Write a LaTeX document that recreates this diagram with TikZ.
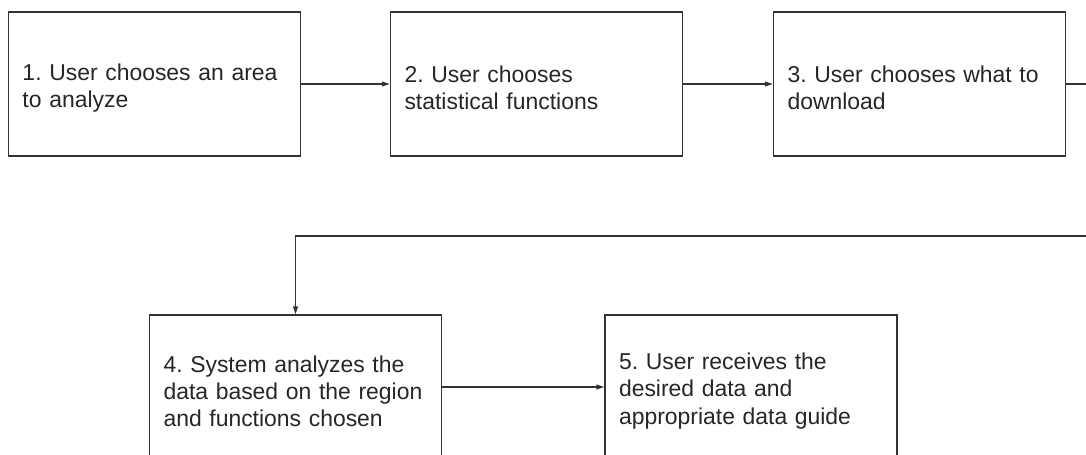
\documentclass[tikz,border=0pt]{standalone}
\usepackage{fontspec}
\setmainfont{Liberation Sans}
\usepackage{tikz}
\usetikzlibrary{arrows.meta,calc,positioning}
\frenchspacing

\begin{document}
\begin{tikzpicture}[x=0.75pt,y=-0.75pt,
  stepbox/.style={draw=black!80,line width=0.9pt,rectangle,align=left,
    text width=198pt,inner xsep=10.5pt,inner ysep=0pt,minimum height=108pt,
    text=black!85,font=\fontsize{17.2}{20.3}\selectfont,
    execute at begin node={\rule{0pt}{18.5pt}}},
  flow/.style={draw=black!80,line width=0.9pt,-{Triangle[length=6pt,width=3.6pt]}}]
  \useasboundingbox (0,0) rectangle (1086,454);
  \clip (0,0) rectangle (1086,454);
  \foreach \n/\x/\y/\txt in {1/154.5/84/{1. User chooses an area\\to analyze},
      2/536.5/84/{2. User chooses\\statistical functions},
      3/919.5/84/{3. User chooses what to\\download},
      4/295.5/387/{4. System analyzes the\\data based on the region\\and functions chosen},
      5/751/387/{5. User receives the\\desired data and\\appropriate data guide}}{
    \node[stepbox] (s\n) at (\x,\y) {\txt};
  }
  \coordinate (turn) at (1110,236);
  \draw[flow] (s1.east) -- (s2.west);
  \draw[flow] (s2.east) -- (s3.west);
  \draw[flow] (s3.east) -| (turn) -| (s4.north);
  \draw[flow] (s4.east) -- (s5.west);
\end{tikzpicture}
\end{document}
